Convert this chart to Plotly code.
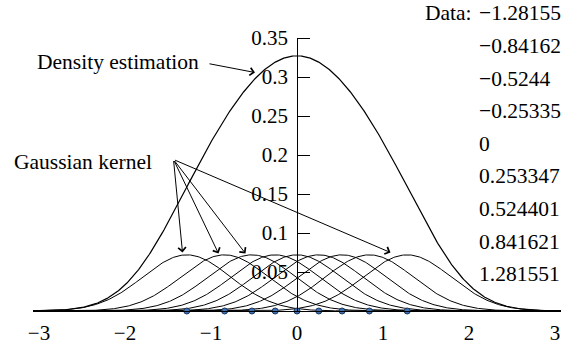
import numpy as np
import plotly.graph_objects as go

# ---- data ----
data_points = [-1.28155, -0.84162, -0.5244, -0.25335, 0.0, 0.253347, 0.524401, 0.841621, 1.281551]
data_labels = ["\u22121.28155", "\u22120.84162", "\u22120.5244", "\u22120.25335", "0",
               "0.253347", "0.524401", "0.841621", "1.281551"]
kernel_peak = 0.072      # height of each drawn Gaussian kernel
kernel_sigma = 0.51      # width of each kernel
x_ticks = [-3, -2, -1, 0, 1, 2, 3]
y_ticks = [0.05, 0.1, 0.15, 0.2, 0.25, 0.3, 0.35]
y_tick_text = ["0.05", "0.1", "0.15", "0.2", "0.25", "0.3", "0.35"]

# ---- layout geometry ----
W, H = 568, 353
ML, MR, MT, MB = 33, 7, 38, 42
XR = [-3.07, 3.07]
YR = [0.0, 0.35]
pw, ph = W - ML - MR, H - MT - MB

def px2x(px):
    return XR[0] + (px - ML) / pw * (XR[1] - XR[0])

def py2y(py):
    return YR[1] - (py - MT) / ph * (YR[1] - YR[0])

def px2paper(px):
    return (px - ML) / pw

def py2paper(py):
    return (H - MB - py) / ph

FONT = "Liberation Serif, DejaVu Serif, serif"
FS_TICK = 21
FS_TXT = 21.5

xs = np.linspace(XR[0], XR[1], 500)
kernels = [kernel_peak * np.exp(-0.5 * ((xs - p) / kernel_sigma) ** 2) for p in data_points]
density = np.sum(kernels, axis=0)

fig = go.Figure()
for k in kernels:
    fig.add_trace(go.Scatter(x=xs, y=k, mode="lines", line=dict(color="black", width=1),
                             hoverinfo="skip", showlegend=False, cliponaxis=False))
fig.add_trace(go.Scatter(x=xs, y=density, mode="lines", line=dict(color="black", width=1.2),
                         hoverinfo="skip", showlegend=False, cliponaxis=False))
fig.add_trace(go.Scatter(x=data_points, y=[0] * len(data_points), mode="markers",
                         marker=dict(size=6, color="#3f72b5", line=dict(color="#1d3557", width=1)),
                         showlegend=False, cliponaxis=False))
# invisible companion trace so the label-only y axis is drawn
fig.add_trace(go.Scatter(x=data_points, y=[0] * len(data_points), mode="markers",
                         marker=dict(size=1, opacity=0), yaxis="y2",
                         hoverinfo="skip", showlegend=False))

ann = []
# arrows (head pixel, tail pixel)
arrows = [((255, 72.5), (208, 63.5)),
          ((182.5, 252.5), (173.5, 159.5)),
          ((218.5, 253.5), (173.5, 159.5)),
          ((245.5, 253.5), (173.5, 159.5)),
          ((390.5, 252.5), (173.5, 159.5))]
for (hx, hy), (tx, ty) in arrows:
    ann.append(dict(x=px2x(hx), y=py2y(hy), ax=px2x(tx), ay=py2y(ty), xref="x", yref="y",
                    axref="x", ayref="y", text="", showarrow=True, arrowhead=4,
                    arrowsize=1.5, arrowwidth=1, arrowcolor="black"))

def label(px, py, text, anchor):
    return dict(x=px2paper(px), y=py2paper(py), xref="paper", yref="paper", text=text,
                showarrow=False, xanchor=anchor, yanchor="middle",
                font=dict(family=FONT, size=FS_TXT, color="black"))

ann.append(label(35, 62, "Density estimation", "left"))
ann.append(label(12, 162, "Gaussian kernel", "left"))
ann.append(label(474, 13.3, "Data:", "right"))
for i, lab in enumerate(data_labels):
    ann.append(label(477, 13.3 + 32.6 * i, lab, "left"))

ypos = (0 - XR[0]) / (XR[1] - XR[0])
fig.update_layout(
    width=W, height=H,
    margin=dict(l=ML, r=MR, t=MT, b=MB, pad=0, autoexpand=False),
    paper_bgcolor="white", plot_bgcolor="white",
    font=dict(family=FONT, size=FS_TICK, color="black"),
    annotations=ann,
    xaxis=dict(range=XR, showgrid=False, zeroline=False, showline=True, linecolor="black",
               linewidth=1, ticks="", tickvals=x_ticks, ticklabelstandoff=3, automargin=False,
               tickfont=dict(family=FONT, size=FS_TICK, color="black")),
    # axis line + tick marks (ticks pointing right)
    yaxis=dict(range=YR, showgrid=False, zeroline=False, showline=True, linecolor="black",
               linewidth=1, anchor="free", position=ypos, side="right",
               ticks="outside", ticklen=12, tickcolor="black", tickwidth=1, automargin=False,
               tickvals=y_ticks, showticklabels=False),
    # tick labels on the left of the axis
    yaxis2=dict(range=YR, overlaying="y", showgrid=False, zeroline=False, showline=False,
                anchor="free", position=ypos, side="left", ticks="", automargin=False,
                tickvals=y_ticks, ticktext=y_tick_text, ticklabelstandoff=9,
                tickfont=dict(family=FONT, size=FS_TICK, color="black")),
    showlegend=False,
)

fig.write_html("out.html", config={"displayModeBar": False},
               post_script="document.body.style.margin='0px';")
